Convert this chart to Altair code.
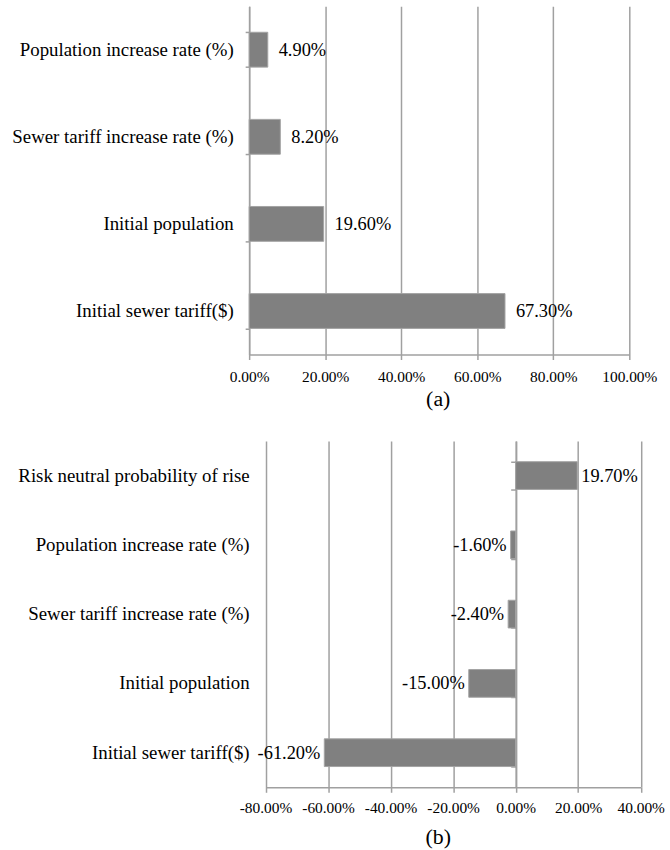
import altair as alt
import pandas as pd

# (a) share of variance explained by each factor
a_factors = [
    "Population increase rate (%)",
    "Sewer tariff increase rate (%)",
    "Initial population",
    "Initial sewer tariff($)",
]
a_values = [0.049, 0.082, 0.196, 0.673]
a_ticks = [0.0, 0.2, 0.4, 0.6, 0.8, 1.0]

# (b) signed contribution of each factor
b_factors = [
    "Risk neutral probability of rise",
    "Population increase rate (%)",
    "Sewer tariff increase rate (%)",
    "Initial population",
    "Initial sewer tariff($)",
]
b_values = [0.197, -0.016, -0.024, -0.150, -0.612]
b_ticks = [-0.8, -0.6, -0.4, -0.2, 0.0, 0.2, 0.4]

FONT = "Liberation Serif"
LINE = "#a0a0a0"
BAR = "#808080"

df_a = pd.DataFrame({"factor": a_factors, "value": a_values})
df_b = pd.DataFrame({"factor": b_factors, "value": b_values})


def x_axis(values, title, label_pad, title_pad):
    return alt.Axis(
        values=values, format=".2%", title=title, titleX=190,
        titleFontSize=22, titleFontWeight="normal", titlePadding=title_pad,
        labelFontSize=15.5, labelPadding=label_pad, labelFlush=False,
        labelOverlap=False, tickSize=5, grid=True,
    )


bar_style = dict(color=BAR, stroke="#a3a3a3", strokeWidth=1)
text_style = dict(font=FONT, fontSize=18.5, baseline="middle", color="black")

# ---- panel (a)
ya = alt.Scale(domain=a_factors, paddingInner=0.6, paddingOuter=0.3)
xa = alt.Scale(domain=[0, 1], nice=False)

bars_a = alt.Chart(df_a).mark_bar(**bar_style).encode(
    x=alt.X("value:Q", scale=xa, axis=x_axis(a_ticks, "(a)", 10, 4)),
    y=alt.Y("factor:N", scale=ya, axis=alt.Axis(
        title=None, tickBand="extent", tickSize=4, labelPadding=12,
        labelFontSize=19, labelLimit=400, grid=False)),
)
text_a = alt.Chart(df_a).mark_text(align="left", dx=11, **text_style).encode(
    x="value:Q",
    y="factor:N",
    text=alt.Text("value:Q", format=".2%"),
)
panel_a = alt.layer(bars_a, text_a).properties(width=383, height=351)

# ---- panel (b)
yb = alt.Scale(domain=b_factors, paddingInner=0.6, paddingOuter=0.3)
xb = alt.Scale(domain=[-0.8, 0.4], range=[16.5, 394.5], nice=False, zero=False)

bars_b = alt.Chart(df_b).mark_bar(**bar_style).encode(
    x=alt.X("value:Q", scale=xb, axis=x_axis(b_ticks, "(b)", 8, 11)),
    y=alt.Y("factor:N", scale=yb, axis=alt.Axis(
        title=None, domain=False, ticks=False, tickSize=0, labelPadding=0,
        labelFontSize=19, labelLimit=400, grid=False)),
)
# positive labels sit right of the bar; this layer also carries the zero line axis
text_pos = alt.Chart(df_b).transform_filter("datum.value >= 0").mark_text(
    align="left", dx=4, **text_style
).encode(
    x="value:Q",
    y=alt.Y("factor:N", axis=alt.Axis(
        orient="left", offset=-268.5, labels=False, title=None,
        tickBand="extent", tickSize=5, grid=False)),
    text=alt.Text("value:Q", format=".2%"),
)
text_neg = alt.Chart(df_b).transform_filter("datum.value < 0").mark_text(
    align="right", dx=-4, **text_style
).encode(
    x="value:Q",
    y=alt.Y("factor:N", axis=None),
    text=alt.Text("value:Q", format=".2%"),
)
panel_b = (
    alt.layer(bars_b, text_pos, text_neg)
    .resolve_axis(y="independent")
    .properties(width=395, height=349)
)

chart = (
    alt.vconcat(panel_a, panel_b, spacing=31)
    .properties(padding={"left": 11, "top": -6, "right": 5, "bottom": 5})
    .configure(
        font=FONT,
        locale={"number": {"decimal": ".", "thousands": ",", "grouping": [3],
                           "currency": ["$", ""], "minus": "-"}},
    )
    .configure_axis(
        gridColor=LINE, gridWidth=1.5, domainColor=LINE, domainWidth=1.5,
        tickColor=LINE, tickWidth=1.5, labelColor="black", titleColor="black",
        labelFont=FONT, titleFont=FONT,
    )
    .configure_view(stroke=None)
)

chart.save("out.html", embed_options={"renderer": "svg", "actions": False})
